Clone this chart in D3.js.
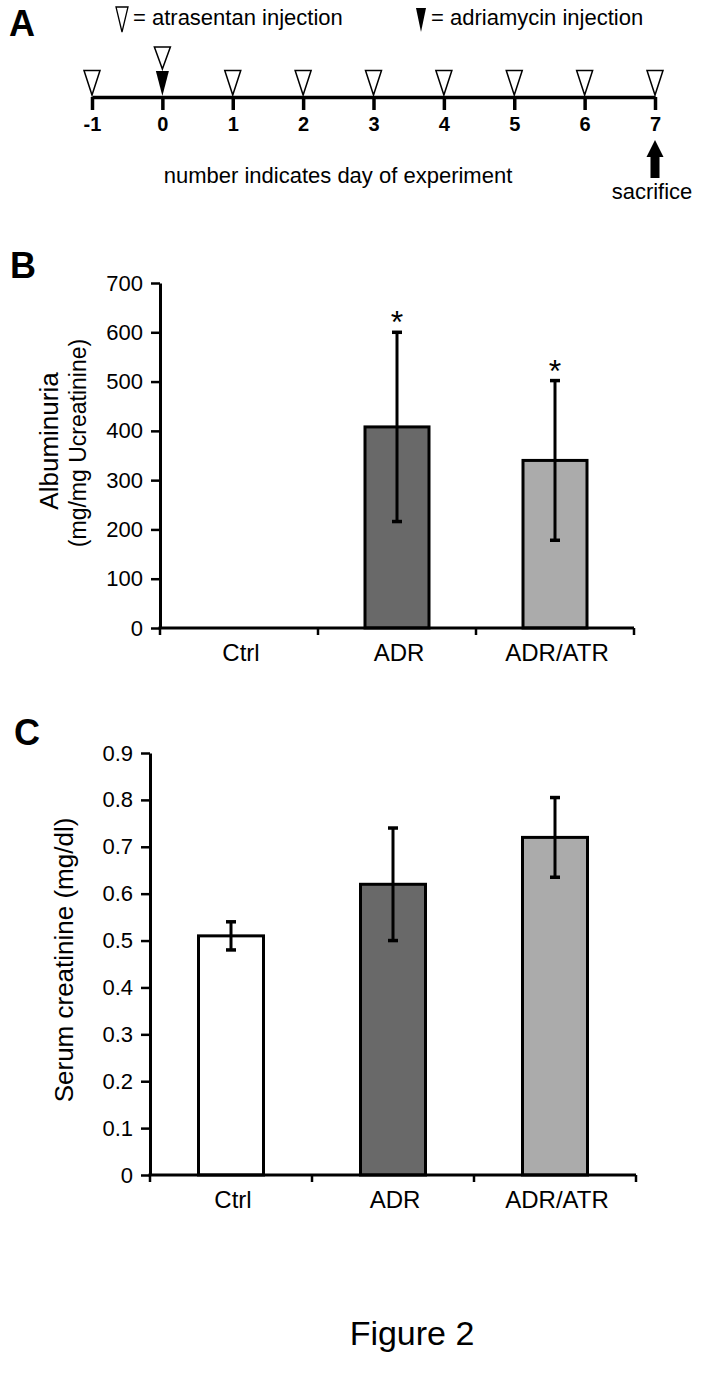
<!DOCTYPE html>
<html><head><meta charset="utf-8">
<script src="https://cdn.jsdelivr.net/npm/d3@7"></script>
<style>
body{margin:0;background:#fff}
svg text{font-family:"Liberation Sans",Arial,Helvetica,sans-serif;fill:#000}
</style>
</head><body>
<svg id="fig" width="702" height="1379"></svg>
<script>
// ---------- data ----------
const days = [-1, 0, 1, 2, 3, 4, 5, 6, 7];
const atrasentanDays = [-1, 0, 1, 2, 3, 4, 5, 6, 7];
const adriamycinDays = [0];
const sacrificeDay = 7;

const groups = ["Ctrl", "ADR", "ADR/ATR"];
const albuminuriaMean = [0, 408, 340];
const albuminuriaSD = [0, 192, 162];
const albuminuriaSig = [false, true, true];
const albuminuriaTicks = [0, 100, 200, 300, 400, 500, 600, 700];

const creatinineMean = [0.51, 0.62, 0.72];
const creatinineSD = [0.03, 0.12, 0.085];
const creatinineTicks = [0, 0.1, 0.2, 0.3, 0.4, 0.5, 0.6, 0.7, 0.8, 0.9];

const barColors = ["#ffffff", "#696969", "#ababab"];

// ---------- setup ----------
const svg = d3.select("#fig");

function panelLetter(t, x, y) {
  svg.append("text").attr("x", x).attr("y", y).text(t)
    .style("font-size", "36px").style("font-weight", "bold");
}

// ---------- Panel A: timeline ----------
panelLetter("A", 9, 36);
const lineY = 97;
const xT = d3.scaleLinear().domain([-1, 7]).range([92, 655]);
const gA = svg.append("g").attr("transform", `translate(0,${lineY})`);
gA.call(d3.axisBottom(xT).tickValues(days).tickSize(13).tickSizeOuter(0).tickPadding(7).tickFormat(d => String(d)));
gA.select(".domain").attr("stroke", "#000").attr("stroke-width", 3.5);
gA.selectAll(".tick line").attr("stroke", "#000").attr("stroke-width", 3.5);
gA.selectAll(".tick text").style("font-size", "20px").style("font-weight", "bold")
  .style("font-family", "'Liberation Sans',Arial,sans-serif").attr("fill", "#000");

// open triangles (atrasentan)
svg.append("g").selectAll("path").data(atrasentanDays).join("path")
  .attr("d", d => {
    const cx = xT(d);
    if (adriamycinDays.includes(d)) return `M${cx - 8},47 L${cx + 8},47 L${cx},69 Z`;
    return `M${cx - 8},70.5 L${cx + 8},70.5 L${cx},95 Z`;
  })
  .attr("fill", "#fff").attr("stroke", "#000").attr("stroke-width", 1.5);

// filled triangles (adriamycin)
svg.append("g").selectAll("path").data(adriamycinDays).join("path")
  .attr("d", d => { const cx = xT(d); return `M${cx - 6.5},71 L${cx + 6.5},71 L${cx},96 Z`; })
  .attr("fill", "#000");

// sacrifice arrow
{
  const cx = xT(sacrificeDay);
  svg.append("path")
    .attr("d", `M${cx},140 L${cx + 8.5},157 L${cx + 4.5},157 L${cx + 4.5},178 L${cx - 4.5},178 L${cx - 4.5},157 L${cx - 8.5},157 Z`)
    .attr("fill", "#000");
  svg.append("text").attr("x", cx - 3).attr("y", 199).attr("text-anchor", "middle")
    .style("font-size", "22px").text("sacrifice");
}

svg.append("text").attr("x", 338).attr("y", 183).attr("text-anchor", "middle")
  .style("font-size", "22px").text("number indicates day of experiment");

// legend
svg.append("path").attr("d", "M116,7 L128,7 L122,32 Z").attr("fill", "#fff").attr("stroke", "#000").attr("stroke-width", 1.3);
svg.append("text").attr("x", 133).attr("y", 25).style("font-size", "22px").text("= atrasentan injection");
svg.append("path").attr("d", "M416,8 L426,8 L421,32 Z").attr("fill", "#000");
svg.append("text").attr("x", 431).attr("y", 25).style("font-size", "22px").text("= adriamycin injection");

// ---------- bar panel helper ----------
function barPanel(opts) {
  const { means, sds, sig, ticks, yDomain, yRange, xRange, barW, tickFmt } = opts;
  const y = d3.scaleLinear().domain(yDomain).range(yRange);
  const x = d3.scaleBand().domain(groups).range(xRange).padding(0);
  const g = svg.append("g");

  const rows = groups.map((k, i) => ({ k, m: means[i], s: sds[i], sig: sig ? sig[i] : false, c: barColors[i] }));
  g.selectAll("rect.bar").data(rows.filter(r => r.m > 0)).join("rect")
    .attr("class", "bar")
    .attr("x", r => x(r.k) + (x.bandwidth() - barW) / 2)
    .attr("width", barW)
    .attr("y", r => y(r.m))
    .attr("height", r => y(0) - y(r.m))
    .attr("fill", r => r.c).attr("stroke", "#000").attr("stroke-width", 3);

  const eb = g.selectAll("g.eb").data(rows.filter(r => r.s > 0)).join("g").attr("class", "eb");
  const cx = r => x(r.k) + x.bandwidth() / 2;
  eb.append("line").attr("x1", cx).attr("x2", cx)
    .attr("y1", r => y(r.m - r.s)).attr("y2", r => y(r.m + r.s))
    .attr("stroke", "#000").attr("stroke-width", 3);
  [1, -1].forEach(sgn => {
    eb.append("line").attr("x1", r => cx(r) - 5).attr("x2", r => cx(r) + 5)
      .attr("y1", r => y(r.m + sgn * r.s)).attr("y2", r => y(r.m + sgn * r.s))
      .attr("stroke", "#000").attr("stroke-width", 3.5);
  });

  g.selectAll("text.sig").data(rows.filter(r => r.sig)).join("text")
    .attr("class", "sig").attr("x", cx).attr("y", r => y(r.m + r.s) + 1)
    .attr("text-anchor", "middle").style("font-size", "32px").text("*");

  const ga = g.append("g").attr("transform", `translate(${xRange[0]},0)`)
    .call(d3.axisLeft(y).tickValues(ticks).tickSize(9).tickSizeOuter(0).tickPadding(8).tickFormat(tickFmt));
  ga.select(".domain").attr("stroke", "#000").attr("stroke-width", 3);
  ga.selectAll(".tick line").attr("stroke", "#000").attr("stroke-width", 2.5);
  ga.selectAll(".tick text").style("font-size", "22px").attr("fill", "#000")
    .style("font-family", "'Liberation Sans',Arial,sans-serif");

  const y0 = y(0);
  g.append("line").attr("x1", xRange[0] - 1.5).attr("x2", xRange[1]).attr("y1", y0).attr("y2", y0)
    .attr("stroke", "#000").attr("stroke-width", 3);
  const bounds = groups.map(k => x(k)).concat([xRange[1]]);
  g.selectAll("line.xt").data(bounds).join("line").attr("class", "xt")
    .attr("x1", d => d).attr("x2", d => d).attr("y1", y0).attr("y2", y0 + 7)
    .attr("stroke", "#000").attr("stroke-width", 2.5);
  g.selectAll("text.xl").data(groups).join("text").attr("class", "xl")
    .attr("x", k => x(k) + x.bandwidth() / 2 + 2).attr("y", y0 + 33)
    .attr("text-anchor", "middle").style("font-size", "24px").text(k => k);
  return { x, y };
}

// ---------- Panel B ----------
panelLetter("B", 10, 278);
barPanel({
  means: albuminuriaMean, sds: albuminuriaSD, sig: albuminuriaSig, ticks: albuminuriaTicks,
  yDomain: [0, 700], yRange: [628, 283], xRange: [160, 634], barW: 64,
  tickFmt: d3.format("d")
});
svg.append("text").attr("transform", "translate(58,441) rotate(-90)").attr("text-anchor", "middle")
  .style("font-size", "26px").text("Albuminuria");
svg.append("text").attr("transform", "translate(86,443) rotate(-90)").attr("text-anchor", "middle")
  .style("font-size", "23px").text("(mg/mg Ucreatinine)");

// ---------- Panel C ----------
panelLetter("C", 14, 745);
barPanel({
  means: creatinineMean, sds: creatinineSD, sig: null, ticks: creatinineTicks,
  yDomain: [0, 0.9], yRange: [1175, 753], xRange: [150, 636], barW: 65,
  tickFmt: d => d === 0 ? "0" : d3.format(".1f")(d)
});
svg.append("text").attr("transform", "translate(73,960) rotate(-90)").attr("text-anchor", "middle")
  .style("font-size", "26px").text("Serum creatinine (mg/dl)");

// ---------- caption ----------
svg.append("text").attr("x", 412).attr("y", 1345).attr("text-anchor", "middle")
  .style("font-size", "34px").text("Figure 2");
</script>
</body></html>
